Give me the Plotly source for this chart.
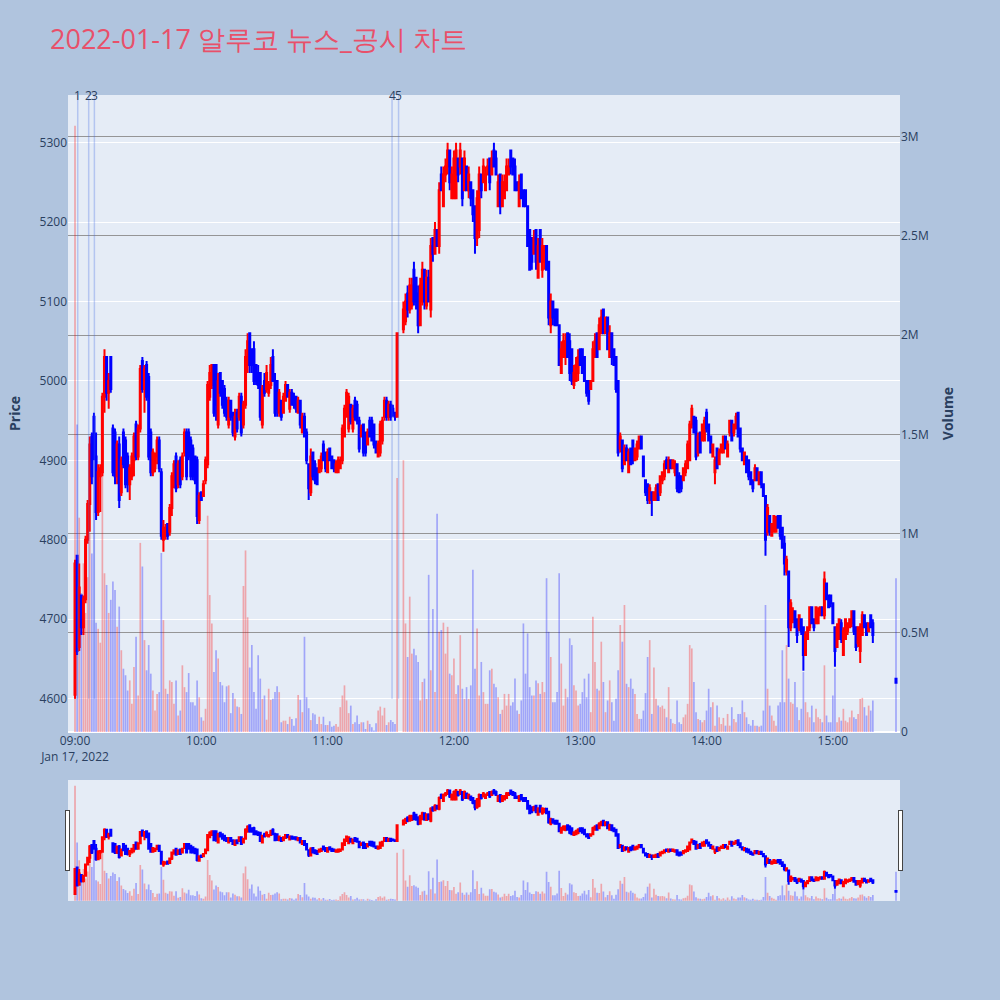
import pandas as pd
import plotly.graph_objects as go
from plotly.subplots import make_subplots

# ---------------- data ----------------
halt_minutes = ["2022-01-17 11:34", "2022-01-17 11:35"]
closing_auction = ["2022-01-17 15:30"]
times = pd.date_range("2022-01-17 09:00", "2022-01-17 15:19", freq="min")
times = times.drop(pd.to_datetime(halt_minutes)).append(pd.DatetimeIndex(closing_auction))

open_ = [
    4605,4780,4665,4730,4690,4725,4800,4845,4930,4955, 4905,4835,4880,4885,4980,5030,4985,5030,4940,4935,
    4880,4920,4860,4935,4925,4905,4870,4880,4900,4945, 4905,4940,5025,4990,5020,5005,4935,4885,4890,4905,
    4925,4885,4800,4805,4820,4810,4840,4875,
    4905,4870,4900,4880,4910,4935,4935,4925,4915,4905, 4900,4825,4860,4855,4875,4895,4980,4995,5020,5020,
    4945,5010,5000,4990,4975,4945,4975,4960,4930,4960, 4955,4980,4945,4970,5020,5060,5040,5040,5020,5010,
    5010,4945,5000,4990,4985,4995,5030,5000,5000,4960,
    4975,4960,4975,4995,4965,4985,4980,4980,4960,4975, 4935,4955,4935,4895,4860,4910,4895,4890,4885,4890,
    4920,4910,4885,4915,4905,4900,4885,4885,4890,4900, 4930,4955,4940,4970,4940,4975,4970,4950,4930,4945,
    4935,4920,4950,4950,4945,4920,4905,4910,4925,4955,
    4975,4955,4970,4965,4960,4955,
    5065,5075,5110,5090,5095,5140,5130,5110,5070,5100, 5140,5095,5130,5090,5180,5160,5190,5170,5260,5220,
    5260,5270,5290,5230,5230,5230,5280,5270,5280,5240, 5270,5240,5250,5240,5220,5180,5190,5260,5250,5240,
    5260,5280,
    5260,5290,5280,5220,5260,5220,5230,5240,5260,5290, 5280,5270,5250,5220,5260,5240,5240,5220,5190,5180,
    5160,5190,5130,5190,5140,5150,5170,5150,5070,5100, 5090,5090,5070,5010,5030,5030,5060,5050,5040,4995,
    5000,5010,5040,5040,5030,5000,5000,4990,
    5000,5030,5060,5040,5060,5090,5060,5080,5030,5060, 5040,5030,5000,4915,4925,4895,4915,4885,4915,4925,
    4900,4905,4915,4930,4905,4875,4870,4850,4860,4850, 4850,4870,4860,4875,4880,4900,4885,4900,4890,4885,
    4895,4880,4880,4875,4885,4890,4900,
    4945,4955,4950,4910,4935,4925,4925,4960,4945,4930, 4905,4885,4915,4895,4910,4910,4930,4905,4935,4950,
    4935,4940,4960,4940,4915,4895,4905,4900,4885,4875, 4875,4890,4870,4885,4870,4855,4810,4830,4805,4810,
    4810,4830,4830,4815,
    4795,4760,4760,4690,4700,4710,4700,4690,4700,4690, 4655,4675,4690,4715,4700,4695,4695,4705,4715,4705,
    4745,4730,4730,4720,4690,4665,4675,4695,4655,4675, 4685,4690,4695,4710,4690,4670,4660,4680,4705,4695,
    4685,4705,4695,
    4625,
]
high_ = [
    4775,4780,4770,4730,4730,4805,4850,4930,4935,4960, 4935,4895,4895,4985,5040,5030,5010,5030,4945,4940,
    4925,4930,4905,4940,4930,4910,4895,4910,4935,4950, 4945,5020,5030,5020,5025,5010,4940,4915,4910,4930,
    4930,4890,4825,4820,4820,4845,4885,4900,
    4910,4900,4905,4910,4940,4940,4940,4930,4920,4905, 4905,4860,4860,4875,4905,5000,5020,5020,5020,5020,
    5010,5010,5000,4995,4980,4980,4975,4960,4965,4965, 4985,4985,4975,5040,5060,5060,5040,5050,5020,5020,
    5010,4995,5010,5020,5000,5030,5040,5010,5000,4990,
    4975,4985,5000,4995,4990,4990,4985,4980,4980,4975, 4960,4960,4940,4895,4915,4910,4900,4890,4900,4910,
    4925,4910,4915,4915,4905,4900,4900,4905,4905,4945, 4970,4990,4985,4970,4970,4980,4975,4955,4945,4945,
    4935,4940,4955,4955,4945,4925,4925,4950,4955,4980,
    4980,4975,4975,4970,4960,5060,
    5100,5110,5120,5130,5130,5150,5130,5120,5130,5150, 5140,5140,5140,5180,5180,5200,5190,5250,5270,5270,
    5280,5300,5290,5270,5290,5300,5280,5300,5280,5290, 5270,5270,5250,5240,5220,5240,5270,5260,5280,5270,
    5280,5280,
    5290,5300,5290,5260,5260,5260,5260,5280,5280,5290, 5280,5280,5250,5260,5260,5240,5240,5220,5190,5180,
    5190,5190,5180,5190,5180,5170,5170,5150,5110,5100, 5090,5090,5070,5050,5060,5060,5060,5060,5040,5020,
    5030,5040,5040,5040,5030,5000,5000,5000,
    5050,5060,5060,5080,5090,5090,5080,5080,5070,5060, 5040,5030,5000,4935,4925,4920,4920,4915,4915,4925,
    4915,4925,4930,4930,4905,4875,4870,4870,4860,4860, 4870,4870,4880,4885,4900,4905,4905,4900,4900,4900,
    4895,4885,4880,4890,4900,4925,4950,
    4970,4955,4955,4935,4935,4945,4955,4965,4945,4930, 4920,4905,4915,4915,4920,4930,4930,4925,4950,4950,
    4945,4960,4960,4940,4915,4910,4905,4900,4885,4875, 4895,4890,4885,4885,4870,4855,4845,4830,4820,4830,
    4830,4830,4830,4815,
    4805,4780,4760,4725,4715,4710,4700,4705,4700,4690, 4685,4690,4715,4715,4700,4715,4715,4715,4715,4760,
    4745,4730,4730,4720,4690,4695,4700,4700,4690,4700, 4695,4700,4710,4710,4690,4690,4695,4710,4705,4695,
    4695,4705,4700,
    4625,
]
low_ = [
    4600,4655,4660,4680,4680,4720,4795,4810,4870,4900, 4825,4830,4835,4880,4960,4975,4965,4985,4880,4870,
    4870,4840,4855,4890,4865,4860,4850,4875,4880,4900, 4900,4935,4985,4960,4975,4900,4880,4880,4885,4895,
    4885,4800,4785,4800,4800,4805,4830,4865,
    4860,4865,4865,4875,4905,4875,4900,4875,4875,4870, 4820,4820,4850,4855,4870,4890,4975,4990,4955,4950,
    4940,4980,4965,4955,4950,4940,4950,4930,4925,4935, 4950,4930,4940,4965,5010,5010,5010,4995,4995,4990,
    4950,4940,4980,4985,4980,4990,5000,4955,4955,4955,
    4950,4960,4975,4980,4960,4970,4965,4960,4960,4940, 4935,4930,4895,4850,4855,4875,4870,4870,4885,4885,
    4900,4885,4885,4900,4890,4885,4885,4885,4890,4895, 4930,4955,4935,4945,4935,4950,4945,4910,4930,4905,
    4905,4920,4930,4925,4915,4910,4905,4905,4920,4950,
    4950,4950,4950,4955,4950,4955,
    5060,5070,5080,5085,5090,5095,5090,5060,5070,5095, 5090,5090,5100,5080,5150,5160,5170,5160,5240,5220,
    5250,5260,5240,5230,5230,5230,5250,5260,5220,5240, 5240,5230,5220,5200,5160,5170,5180,5230,5250,5240,
    5260,5240,
    5260,5270,5260,5220,5210,5220,5230,5240,5260,5260, 5260,5240,5240,5220,5230,5220,5220,5170,5140,5140,
    5160,5140,5130,5150,5130,5140,5140,5070,5060,5070, 5070,5070,5020,5010,5030,5020,5030,5000,4995,4990,
    5000,5000,5020,5010,5000,4980,4970,4990,
    5000,5030,5030,5040,5060,5060,5060,5040,5030,5020, 5020,4985,4905,4910,4885,4895,4900,4885,4895,4895,
    4900,4900,4915,4915,4880,4855,4845,4845,4830,4850, 4850,4850,4855,4870,4875,4890,4885,4890,4890,4880,
    4860,4860,4860,4875,4880,4890,4900,
    4940,4935,4900,4905,4910,4925,4925,4935,4925,4910, 4905,4870,4890,4895,4910,4910,4915,4905,4930,4925,
    4930,4940,4930,4910,4900,4895,4885,4875,4870,4860, 4875,4875,4870,4865,4855,4780,4805,4805,4805,4810,
    4810,4815,4800,4790,
    4755,4755,4665,4685,4695,4690,4670,4685,4680,4635, 4655,4675,4685,4695,4685,4695,4695,4705,4705,4700,
    4725,4715,4715,4695,4640,4665,4675,4670,4655,4675, 4680,4690,4690,4680,4660,4665,4645,4680,4690,4680,
    4685,4690,4670,
    4620,
]
close_ = [
    4770,4660,4740,4690,4725,4800,4845,4920,4880,4905, 4835,4885,4890,4980,5030,4985,5000,4990,4885,4880,
    4920,4850,4900,4895,4870,4870,4890,4905,4930,4905, 4940,5015,4990,5015,4980,4905,4885,4910,4905,4925,
    4890,4805,4815,4815,4805,4840,4880,4895,
    4865,4895,4870,4905,4935,4880,4905,4880,4880,4875, 4830,4855,4850,4870,4900,4995,5010,5020,4960,4970,
    5000,4985,4970,4960,4955,4975,4955,4935,4955,4940, 4980,4935,4970,5030,5050,5020,5020,5000,5000,4995,
    4955,4990,4985,5010,4995,5020,5000,4960,4965,4985,
    4955,4980,4995,4980,4985,4970,4970,4965,4975,4945, 4955,4930,4900,4865,4905,4880,4875,4870,4900,4905,
    4900,4890,4910,4900,4890,4890,4895,4900,4900,4940, 4965,4985,4980,4950,4965,4955,4950,4915,4940,4910,
    4910,4935,4930,4925,4920,4910,4920,4945,4950,4975,
    4955,4970,4955,4960,4955,5060,
    5090,5100,5090,5120,5120,5100,5100,5070,5120,5140, 5100,5130,5100,5170,5160,5190,5170,5240,5240,5260,
    5270,5290,5250,5260,5280,5290,5260,5290,5230,5280, 5240,5260,5230,5210,5180,5230,5260,5240,5270,5260,
    5270,5250,
    5280,5270,5260,5250,5220,5250,5250,5270,5270,5270, 5260,5240,5240,5250,5230,5220,5220,5170,5140,5150,
    5180,5150,5170,5150,5170,5170,5140,5080,5100,5080, 5070,5070,5020,5040,5050,5050,5030,5010,5000,5010,
    5020,5030,5020,5010,5000,4985,4975,5000,
    5040,5050,5030,5070,5080,5060,5080,5040,5060,5030, 5020,4990,4910,4930,4890,4915,4900,4910,4895,4900,
    4915,4920,4930,4915,4880,4860,4850,4865,4850,4860, 4865,4850,4880,4885,4895,4890,4900,4890,4900,4895,
    4865,4860,4865,4890,4895,4920,4945,
    4965,4935,4905,4930,4910,4945,4950,4940,4925,4910, 4920,4900,4890,4910,4920,4930,4915,4920,4950,4925,
    4945,4955,4930,4915,4900,4910,4885,4880,4870,4865, 4890,4875,4885,4870,4855,4800,4840,4810,4820,4830,
    4825,4815,4805,4790,
    4770,4775,4690,4720,4710,4690,4680,4705,4685,4655, 4680,4690,4715,4695,4690,4715,4710,4715,4705,4750,
    4725,4715,4720,4695,4660,4690,4700,4675,4685,4700, 4695,4700,4710,4685,4665,4690,4690,4705,4690,4680,
    4695,4690,4680,
    4620,
]
volume_k = [
    3055,1550,1080,700,850,600,780,1000,900,1500, 550,520,450,1650,800,741,600,666,758,716,
    530,632,412,319,286,209,260,142,328,480, 184,953,834,463,311,438,294,209,108,192,
    201,902,564,218,192,260,252,142,
    260,83,108,336,226,201,297,150,150,133, 260,175,74,57,117,1090,690,547,302,412,
    370,252,235,150,230,235,95,196,167,128, 125,91,736,915,578,325,438,201,117,387,
    269,167,184,62,218,162,167,201,230,201,
    49,57,57,40,77,66,32,69,187,162, 100,480,175,120,60,95,88,40,77,40,
    77,35,35,54,27,32,40,27,125,184, 235,159,95,133,40,49,83,40,49,49,
    15,57,40,24,7,44,108,128,83,122,
    35,49,60,50,40,1280,
    1370,547,378,682,395,420,387,353,159,252, 269,167,792,311,620,201,1100,505,514,551,
    395,530,294,286,370,192,235,488,218,167, 226,167,235,817,319,522,184,353,201,142,
    142,311,
    319,243,226,175,91,112,192,133,192,133, 150,269,108,91,159,547,294,497,226,184,
    184,260,246,192,252,201,775,505,378,150, 150,201,800,345,133,218,175,472,438,235,
    209,133,142,201,269,175,294,100,
    581,353,218,209,455,252,100,159,260,150, 57,167,311,539,455,640,243,226,269,218,
    192,91,66,66,108,196,378,463,91,325, 167,133,125,133,117,74,226,66,44,40,
    159,49,40,74,88,142,438,
    421,252,100,66,60,49,60,108,218,125, 150,32,133,74,40,71,32,91,32,125,
    66,49,91,91,159,100,74,40,32,60, 32,32,27,32,108,640,218,133,83,57,
    32,133,150,412,
    150,438,269,150,142,252,125,60,117,302, 150,100,74,133,49,117,74,66,49,336,
    83,49,49,184,319,49,74,57,117,57, 49,74,108,74,66,91,167,172,125,83,
    133,108,159,
    775,
]

news_times = ["2022-01-17 09:01:17", "2022-01-17 09:06:30", "2022-01-17 09:09:12",
              "2022-01-17 11:30:36", "2022-01-17 11:33:42"]
news_labels = ["1", "2", "3", "4", "5"]

volume_ticks = [0, 500000, 1000000, 1500000, 2000000, 2500000, 3000000]
volume_ticktext = ["0", "0.5M", "1M", "1.5M", "2M", "2.5M", "3M"]

# ---------------- figure ----------------
volume = [v * 1000 for v in volume_k]
vol_colors = ["rgba(255,0,0,0.3)" if c > o else "rgba(0,0,255,0.3)" for o, c in zip(open_, close_)]

fig = make_subplots(specs=[[{"secondary_y": True}]])
fig.add_trace(go.Candlestick(
    x=times, open=open_, high=high_, low=low_, close=close_, name="Price",
    increasing=dict(line=dict(color="red"), fillcolor="red"),
    decreasing=dict(line=dict(color="blue"), fillcolor="blue"),
    showlegend=False), secondary_y=False)
fig.add_trace(go.Bar(
    x=times, y=volume, name="Volume", marker=dict(color=vol_colors, line=dict(width=0)),
    showlegend=False), secondary_y=True)

for t, lab in zip(news_times, news_labels):
    fig.add_shape(type="line", xref="x", yref="y", x0=t, x1=t, y0=4600, y1=5360,
                  line=dict(color="rgba(65,105,225,0.3)", width=1.5))
    fig.add_annotation(x=t, y=1, xref="x", yref="paper", text=lab, showarrow=False,
                       yanchor="middle", font=dict(size=12, color="#2a3f5f"))

fig.update_layout(
    width=1000, height=1000,
    paper_bgcolor="#B0C4DE", plot_bgcolor="#E5ECF6",
    title=dict(text="2022-01-17 알루코 뉴스_공시 차트", x=0.05, xanchor="left",
               y=0.96, yanchor="middle", font=dict(size=27, color="#E8506A")),
    margin=dict(l=68, r=100, t=95, b=100),
    showlegend=False,
    bargap=0.2,
)
fig.update_xaxes(type="date", domain=[0, 1],
                 range=["2022-01-17 08:56:40", "2022-01-17 15:31:54"],
                 automargin=False,
                 rangeslider=dict(visible=True, thickness=0.15, bgcolor="#E5ECF6"))
fig.update_yaxes(title_text="<b>Price</b>", range=[4558, 5360], gridcolor="white",
                 automargin=False, secondary_y=False)
fig.update_yaxes(title_text="<b>Volume</b>", range=[0, 3210000], tickvals=volume_ticks,
                 ticktext=volume_ticktext, gridcolor="rgba(140,140,140,0.9)",
                 automargin=False, showgrid=True, secondary_y=True)

fig.write_html("out.html", config={"displayModeBar": False},
               post_script="document.body.style.margin='0px';")
